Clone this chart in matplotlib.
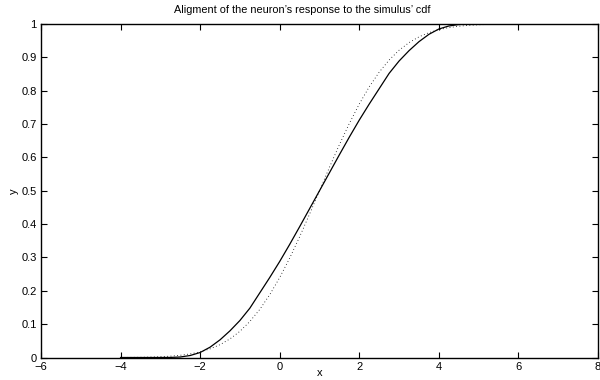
import matplotlib
matplotlib.use("Agg")
import matplotlib.pyplot as plt

plt.rcParams['font.family'] = ['Liberation Sans', 'DejaVu Sans']

x_vals = [-4.0, -3.75, -3.5, -3.25, -3.0, -2.75, -2.5, -2.25, -2.0, -1.75,
          -1.5, -1.25, -1.0, -0.75, -0.5, -0.25, 0.0, 0.25, 0.5, 0.75,
          1.0, 1.25, 1.5, 1.75, 2.0, 2.25, 2.5, 2.75, 3.0, 3.25,
          3.5, 3.75, 4.0, 4.25, 4.5, 4.75, 5.0, 5.25, 5.5, 5.75, 6.0]

neuron_response = [0.0, 0.0, 0.0, 0.0, 0.0, 0.0002, 0.0015, 0.006, 0.015, 0.031,
                   0.053, 0.08, 0.111, 0.148, 0.194, 0.24, 0.288, 0.339, 0.392, 0.446,
                   0.5, 0.554, 0.608, 0.661, 0.712, 0.76, 0.806, 0.852, 0.889, 0.92,
                   0.947, 0.969, 0.985, 0.994, 0.9985, 0.9998, 1.0, 1.0, 1.0, 1.0, 1.0]

stimulus_cdf = [0.0002, 0.0004, 0.0007, 0.0013, 0.0023, 0.0040, 0.0067, 0.0108, 0.0169, 0.0259,
                0.0385, 0.0558, 0.0786, 0.1080, 0.1444, 0.1884, 0.2398, 0.2980, 0.3618, 0.4298,
                0.5, 0.5702, 0.6382, 0.7020, 0.7602, 0.8116, 0.8556, 0.8920, 0.9214, 0.9442,
                0.9615, 0.9741, 0.9831, 0.9892, 0.9933, 0.9960, 0.9977, 0.9987, 0.9993, 0.9996, 0.9998]

x_ticks = [-6, -4, -2, 0, 2, 4, 6, 8]
x_tick_labels = ['\u22126', '\u22124', '\u22122', '0', '2', '4', '6', '8']
y_ticks = [0, 0.1, 0.2, 0.3, 0.4, 0.5, 0.6, 0.7, 0.8, 0.9, 1]
y_tick_labels = ['0', '0.1', '0.2', '0.3', '0.4', '0.5', '0.6', '0.7', '0.8', '0.9', '1']

fig = plt.figure(figsize=(6, 3.8), dpi=100)
ax = fig.add_axes([41/600, (380-357.5)/380, (598-41)/600, (357.5-24)/380])

ax.plot(x_vals, stimulus_cdf, color='black', linestyle=(0, (1, 3)), linewidth=0.6)
ax.plot(x_vals, neuron_response, color='black', linestyle='-', linewidth=0.9)

ax.set_xlim(-6, 8)
ax.set_ylim(0, 1)
ax.set_xticks(x_ticks)
ax.set_xticklabels(x_tick_labels)
ax.set_yticks(y_ticks)
ax.set_yticklabels(y_tick_labels)
ax.tick_params(direction='in', length=4, width=0.8, top=True, right=True,
               labelsize=8, pad=3, colors='black')
for s in ax.spines.values():
    s.set_linewidth(1.0)

ax.set_xlabel('x', fontsize=8)
ax.xaxis.set_label_coords(0.5, -(368.5 - 357.5) / 333.5)
ax.set_ylabel('y', fontsize=8, labelpad=2)
ax.set_title("Aligment of the neuron\u2019s response to the simulus\u2019 cdf",
             fontsize=7.8, x=(302-41)/(598-41), pad=8)

fig.savefig('out.png', dpi=100)
